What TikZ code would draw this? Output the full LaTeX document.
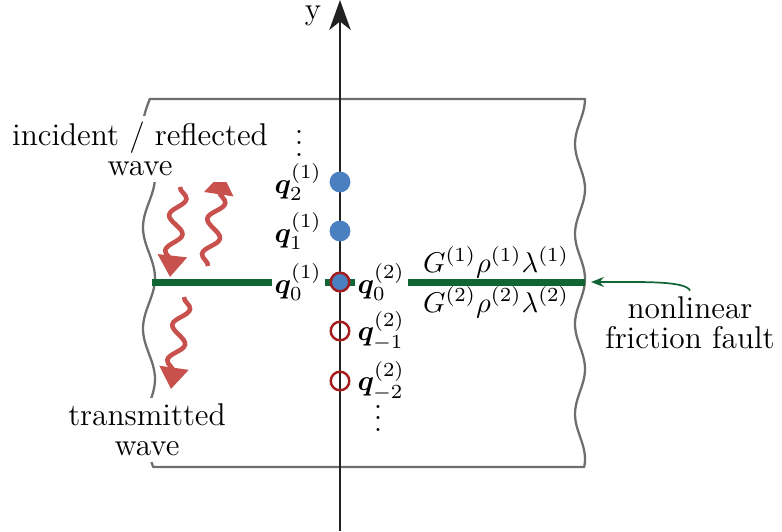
\documentclass[tikz,border=0pt]{standalone}
\usepackage{amsmath,amssymb,bm}
\usepackage{tikz}
\usetikzlibrary{arrows.meta,positioning,calc,decorations.pathmorphing}
\definecolor{boxgray}{HTML}{6E6E6E}
\definecolor{faultgreen}{HTML}{116534}
\definecolor{dotblue}{HTML}{4A7FC0}
\definecolor{ringred}{HTML}{A51C1C}
\definecolor{wavered}{HTML}{C8504D}

\begin{document}
\begin{tikzpicture}[x=0.35pt,y=-0.35pt,
  edge/.style={boxgray,line width=0.8pt,line join=round},
  fault/.style={faultgreen,line width=2.45pt},
  axis/.style={black!87,line width=0.85pt,-{Stealth[length=10.5pt,width=7.5pt,inset=3pt]}},
  wave/.style={wavered,line width=1.6pt,decorate,
    decoration={snake,amplitude=2.7pt,segment length=12.5pt,post length=2pt},
    -{Triangle[length=7.5pt,width=10pt]}},
  pointer/.style={faultgreen,line width=0.6pt,-{Stealth[length=4.5pt,width=3.5pt]}},
  site/.style={circle,minimum size=7.3pt,inner sep=0pt,fill=dotblue},
  ring/.style={circle,minimum size=6.5pt,inner sep=0pt,draw=ringred,line width=0.85pt},
  qlabel/.style={fill=white,inner sep=1pt},
  note/.style={fill=white,align=center,inner sep=2pt,font=\fontsize{11}{10.5}\selectfont}]
  \useasboundingbox (0,0) rectangle (782,531);

  % block cut out of an infinite medium
  \draw[edge] plot[domain=99:467,samples=90] ({149+6*cos((\x-278)*3.56)},\x)
    -- plot[domain=467:99,samples=90] ({580+5*cos((\x-99)*4)},\x) -- cycle;

  % fault plane
  \coordinate (faultL) at (152,282);
  \coordinate (faultR) at (585,282);
  \draw[fault] (faultL) -- (faultR);

  % y axis
  \coordinate (ybot) at (340,531);
  \coordinate (ytop) at (340,0);
  \draw[axis] (ybot) -- (ytop);
  \node[inner sep=0pt,font=\fontsize{11}{12}\selectfont] (ylab) at (313,16) {y};

  % lattice sites
  \node[site] (p2) at (340,182) {};
  \node[site] (p1) at (340,231) {};
  \node[site] (p0) at (340,282) {};
  \node[ring] (m0) at (340,282) {};
  \node[ring] (m1) at (340,331) {};
  \node[ring] (m2) at (340,381) {};

  \node[qlabel,left=1.3pt of p2] (q2) {$\bm{q}_2^{(1)}$};
  \node[qlabel,left=1.3pt of p1] (q1) {$\bm{q}_1^{(1)}$};
  \node[qlabel,left=1.3pt of p0] (q0a) {$\bm{q}_0^{(1)}$};
  \node[qlabel,right=1.3pt of m0] (q0b) {$\bm{q}_0^{(2)}$};
  \node[qlabel,right=1.3pt of m1] (qm1) {$\bm{q}_{-1}^{(2)}$};
  \node[qlabel,right=1.3pt of m2] (qm2) {$\bm{q}_{-2}^{(2)}$};
  \node[anchor=base,inner sep=0pt] (updots) at (299,156) {$\vdots$};
  \node[anchor=base,inner sep=0pt] (downdots) at (378,431) {$\vdots$};

  % material parameters
  \node[anchor=base] (mat1) at (496,272) {$G^{(1)}\rho^{(1)}\lambda^{(1)}$};
  \node[anchor=base] (mat2) at (496,312) {$G^{(2)}\rho^{(2)}\lambda^{(2)}$};

  % waves
  \coordinate (incA) at (180,187);
  \coordinate (incB) at (170,277);
  \coordinate (refA) at (208,266);
  \coordinate (refB) at (222,173);
  \coordinate (traA) at (184,297);
  \coordinate (traB) at (171,389);
  \draw[wave] (incA) -- (incB);
  \draw[wave] (refA) -- (refB);
  \draw[wave] (traA) -- (traB);

  \node[note] (incnote) at (140,149) {incident / reflected\\wave};
  \node[note] (tranote) at (147,430) {transmitted\\wave};
  \node[note] (faultnote) at (690,323) {nonlinear\\friction fault};
  \draw[pointer] (faultnote.north) .. controls +(-4,-10) and +(50,0) .. ($(faultR)+(6,0)$);
\end{tikzpicture}
\end{document}
